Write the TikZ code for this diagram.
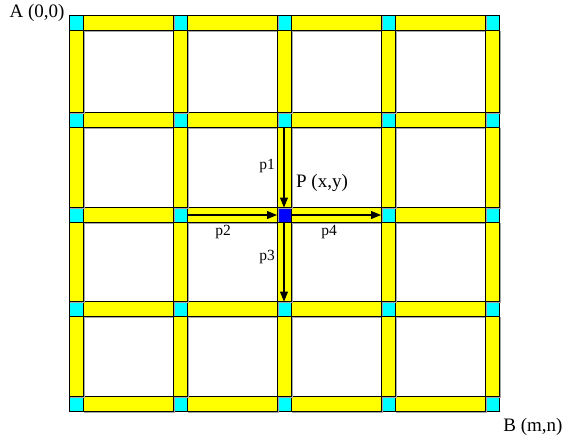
\documentclass[tikz,border=0pt]{standalone}
\usepackage{fontspec}
\setmainfont{Liberation Serif}
\usetikzlibrary{arrows.meta}
\definecolor{jcyan}{RGB}{0,255,255}
\definecolor{jyellow}{RGB}{255,255,0}
\definecolor{jblue}{RGB}{0,0,255}
\tikzset{
  junction/.style={draw=black, fill=jcyan, line width=0.7pt, minimum width=14pt, minimum height=15pt, inner sep=0pt, outer sep=0pt},
  centre/.style={junction, fill=jblue},
  bar/.style={draw=black, fill=jyellow, line width=0.7pt,
    preaction={draw=gray!70, line width=1pt, transform canvas={shift={(1pt,-1pt)}}}},
  flow/.style={draw=black, line width=1.1pt, -{Triangle[length=10pt,width=8pt]}},
  biglabel/.style={font=\fontsize{19}{21}\selectfont, inner sep=0pt},
  smalllabel/.style={font=\fontsize{15.5}{17}\selectfont, inner sep=0pt}
}
\begin{document}
\begin{tikzpicture}[x=1pt,y=-1pt]
\useasboundingbox (0,0) rectangle (564,440);
\foreach \c/\x in {1/76,2/180,3/284,4/388,5/492}{
  \foreach \r/\y in {1/23,2/120,3/215,4/309,5/404}{
    \ifnum\c\r=33 \else \node[junction] (n\c\r) at (\x,\y) {}; \fi
  }
}
\node[centre] (n33) at (284,215) {};
% horizontal bars
\foreach \c [evaluate=\c as \nc using int(\c+1)] in {1,2,3,4}{
  \foreach \r in {1,2,3,4,5}{
    \path[bar] (n\c\r.north east) rectangle (n\nc\r.south west);
  }
}
% vertical bars
\foreach \c in {1,2,3,4,5}{
  \foreach \r [evaluate=\r as \nr using int(\r+1)] in {1,2,3,4}{
    \path[bar] (n\c\r.south west) rectangle (n\c\nr.north east);
  }
}
% arrows
\draw[flow] (n32.south) -- (n33.north);
\draw[flow] (n23.east) -- (n33.west);
\draw[flow] (n33.south) -- (n34.north);
\draw[flow] (n33.east) -- (n43.west);
% labels
\node[biglabel] (A) at (37,13) {A (0,0)};
\node[biglabel] (B) at (533,427) {B (m,n)};
\node[biglabel] (P) at (322,183) {P (x,y)};
\node[smalllabel] (p1) at (267,166) {p1};
\node[smalllabel] (p2) at (223,232) {p2};
\node[smalllabel] (p3) at (267,257) {p3};
\node[smalllabel] (p4) at (329,232) {p4};
\end{tikzpicture}
\end{document}
